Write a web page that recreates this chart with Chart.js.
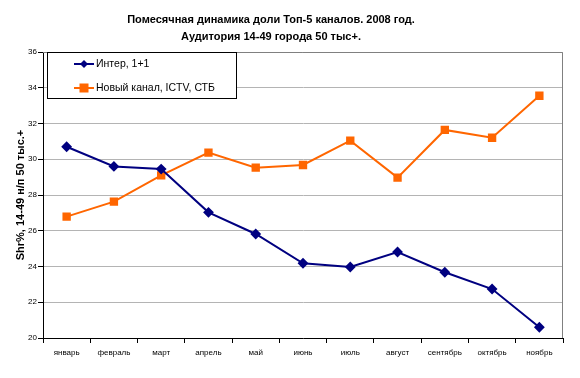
<!DOCTYPE html>
<html>
<head>
<meta charset="utf-8">
<script src="https://cdn.jsdelivr.net/npm/chart.js@4/dist/chart.umd.min.js"></script>
<style>
  html, body { margin: 0; padding: 0; background: #fff; }
  #wrap { width: 580px; height: 378px; }
</style>
</head>
<body>
<div id="wrap"><canvas id="shareChart" width="580" height="378"></canvas></div>
<script>
var months = ['январь', 'февраль', 'март', 'апрель', 'май', 'июнь', 'июль', 'август', 'сентябрь', 'октябрь', 'ноябрь'];
var interValues = [30.7, 29.6, 29.45, 27.03, 25.82, 24.18, 23.97, 24.81, 23.68, 22.74, 20.6];
var novyiValues = [26.79, 27.63, 29.1, 30.37, 29.53, 29.68, 31.04, 28.97, 31.64, 31.2, 33.55];
var seriesNames = ['Интер, 1+1', 'Новый канал, ICTV, СТБ'];
var titleLines = ['Помесячная динамика доли Топ-5 каналов. 2008 год.', 'Аудитория 14-49 города 50 тыс+.'];
var yTitle = 'Shr%, 14-49 н/п 50 тыс.+';

// title, y-axis title, plot frame and boxed legend
var decor = {
    id: 'decor',
    afterDraw: function (chart) {
        var c = chart.ctx, a = chart.chartArea;
        c.save();
        c.fillStyle = '#000';
        c.textAlign = 'center';
        c.textBaseline = 'middle';
        c.font = 'bold 11px "Liberation Sans", Arial, sans-serif';
        c.fillText(titleLines[0], 271, 20);
        c.fillText(titleLines[1], 271, 37);

        c.save();
        c.translate(21, (a.top + a.bottom) / 2);
        c.rotate(-Math.PI / 2);
        c.fillText(yTitle, 0, 0);
        c.restore();

        // gray top/right frame
        c.strokeStyle = '#808080';
        c.lineWidth = 1;
        c.beginPath();
        c.moveTo(a.left, a.top + 0.5);
        c.lineTo(a.right - 0.5, a.top + 0.5);
        c.lineTo(a.right - 0.5, a.bottom);
        c.stroke();

        // legend box
        var bx = 47, by = 52, bw = 189, bh = 46;
        c.fillStyle = '#fff';
        c.fillRect(bx, by, bw, bh);
        c.strokeStyle = '#000';
        c.strokeRect(bx + 0.5, by + 0.5, bw, bh);
        c.textAlign = 'left';
        c.font = '10.5px "Liberation Sans", Arial, sans-serif';
        chart.data.datasets.forEach(function (ds, i) {
            var ly = 64 + i * 24;
            c.strokeStyle = ds.borderColor;
            c.lineWidth = 2;
            c.beginPath();
            c.moveTo(74, ly);
            c.lineTo(94, ly);
            c.stroke();
            c.fillStyle = ds.borderColor;
            if (ds.pointStyle === 'rect') {
                c.fillRect(84 - 4.5, ly - 4.5, 9, 9);
            } else {
                c.beginPath();
                c.moveTo(84, ly - 4);
                c.lineTo(88, ly);
                c.lineTo(84, ly + 4);
                c.lineTo(80, ly);
                c.closePath();
                c.fill();
            }
            c.fillStyle = '#000';
            c.fillText(ds.label, 96, ly);
        });
        c.restore();
    }
};

var ctx = document.getElementById('shareChart').getContext('2d');
var chart = new Chart(ctx, {
    type: 'line',
    data: {
        labels: months,
        datasets: [{
            label: seriesNames[0],
            data: interValues,
            borderColor: '#000080',
            backgroundColor: '#000080',
            borderWidth: 2,
            pointStyle: 'rectRot',
            pointRadius: 4,
            tension: 0
        }, {
            label: seriesNames[1],
            data: novyiValues,
            borderColor: '#FF6600',
            backgroundColor: '#FF6600',
            borderWidth: 2,
            pointStyle: 'rect',
            pointRadius: 4.5,
            tension: 0
        }]
    },
    options: {
        responsive: false,
        animation: false,
        layout: { padding: { top: 52, right: 17, left: 0, bottom: 0 } },
        plugins: {
            legend: { display: false },
            title: { display: false },
            tooltip: { enabled: false }
        },
        scales: {
            x: {
                offset: true,
                grid: {
                    offset: true,
                    drawOnChartArea: false,
                    drawTicks: true,
                    tickLength: 5,
                    tickColor: '#000'
                },
                border: { color: '#000', width: 1 },
                ticks: {
                    color: '#000',
                    padding: 5,
                    maxRotation: 0,
                    autoSkip: false,
                    font: { family: '"Liberation Sans", Arial, sans-serif', size: 8 }
                },
                afterFit: function (s) { s.height = 40; }
            },
            y: {
                min: 20,
                max: 36,
                ticks: {
                    stepSize: 2,
                    color: '#000',
                    padding: 1,
                    font: { family: '"Liberation Sans", Arial, sans-serif', size: 8 }
                },
                grid: {
                    color: '#b4b4b4',
                    tickColor: '#000',
                    tickLength: 5
                },
                border: { color: '#000', width: 1 },
                afterFit: function (s) { s.width = 43; }
            }
        }
    },
    plugins: [decor]
});
</script>
</body>
</html>
